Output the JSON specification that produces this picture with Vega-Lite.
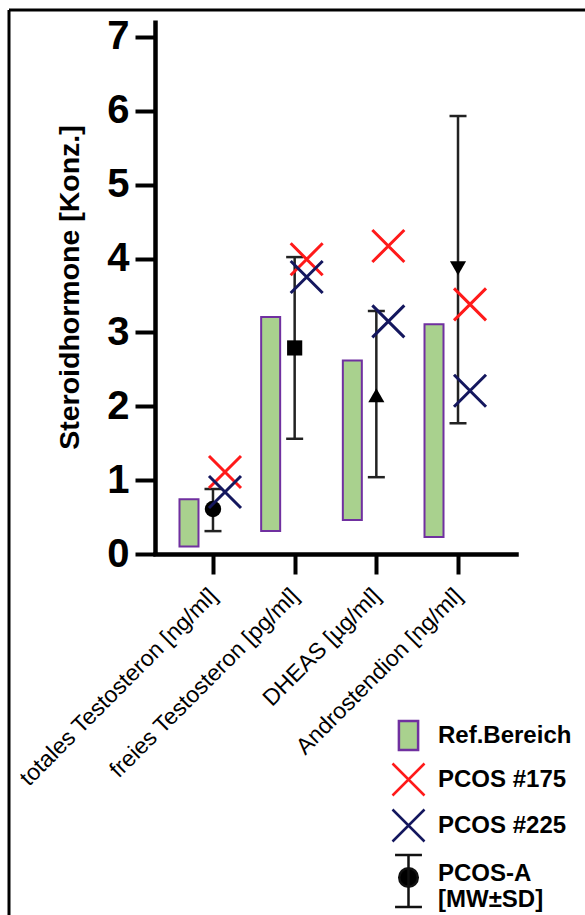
{
  "$schema": "https://vega.github.io/schema/vega-lite/v6.json",
  "width": 576,
  "height": 905,
  "autosize": {"type": "none"},
  "padding": {"left": 9, "top": 10, "right": 0, "bottom": 0},
  "background": "white",
  "config": {
    "view": {"stroke": "black", "strokeWidth": 3, "strokeDash": [576, 1481, 905, 0]},
    "font": "Liberation Sans",
    "legend": {
      "orient": "none",
      "legendX": 382,
      "legendY": 708,
      "title": null,
      "symbolSize": 1024,
      "symbolStrokeWidth": 2.5,
      "labelFont": "Liberation Sans",
      "labelFontSize": 24,
      "labelFontWeight": "bold",
      "labelColor": "black",
      "labelOffset": 12,
      "labelLimit": 300,
      "rowPadding": 3
    }
  },
  "datasets": {
    "kat": [
      {"cat": "totales Testosteron [ng/ml]", "ref_lo": 0.1, "ref_hi": 0.74, "mean": 0.61, "sd_lo": 0.31, "sd_hi": 0.88},
      {"cat": "freies Testosteron [pg/ml]", "ref_lo": 0.31, "ref_hi": 3.21, "mean": 2.79, "sd_lo": 1.56, "sd_hi": 4.02},
      {"cat": "DHEAS [µg/ml]", "ref_lo": 0.46, "ref_hi": 2.62, "mean": 2.15, "sd_lo": 1.04, "sd_hi": 3.29},
      {"cat": "Androstendion [ng/ml]", "ref_lo": 0.23, "ref_hi": 3.11, "mean": 3.87, "sd_lo": 1.77, "sd_hi": 5.93}
    ],
    "pcos": [
      {"cat": "totales Testosteron [ng/ml]", "series": "PCOS #175", "value": 1.11},
      {"cat": "totales Testosteron [ng/ml]", "series": "PCOS #225", "value": 0.84},
      {"cat": "freies Testosteron [pg/ml]", "series": "PCOS #175", "value": 3.99},
      {"cat": "freies Testosteron [pg/ml]", "series": "PCOS #225", "value": 3.75},
      {"cat": "DHEAS [µg/ml]", "series": "PCOS #175", "value": 4.17},
      {"cat": "DHEAS [µg/ml]", "series": "PCOS #225", "value": 3.15},
      {"cat": "Androstendion [ng/ml]", "series": "PCOS #175", "value": 3.38},
      {"cat": "Androstendion [ng/ml]", "series": "PCOS #225", "value": 2.21}
    ]
  },
  "encoding": {
    "x": {
      "field": "cat",
      "type": "nominal",
      "sort": null,
      "scale": {
        "type": "point",
        "domain": ["totales Testosteron [ng/ml]", "freies Testosteron [pg/ml]", "DHEAS [µg/ml]", "Androstendion [ng/ml]"],
        "range": [146, 507],
        "padding": 0.71
      },
      "axis": {
        "orient": "bottom",
        "offset": -361,
        "title": null,
        "labelAngle": -45,
        "labelAlign": "right",
        "labelBaseline": "middle",
        "labelFontSize": 23,
        "labelFont": "Liberation Sans",
        "labelColor": "black",
        "labelPadding": 18,
        "labelLimit": 400,
        "tickSize": 20,
        "tickWidth": 4,
        "tickColor": "black",
        "domainWidth": 4.5,
        "domainColor": "black",
        "domainCap": "square"
      }
    }
  },
  "layer": [
    {
      "data": {"name": "kat"},
      "mark": {"type": "bar", "width": 19, "xOffset": -24, "fill": "#a9d18e", "stroke": "#7030a0", "strokeWidth": 2},
      "encoding": {
        "y": {
          "field": "ref_lo",
          "type": "quantitative",
          "scale": {"domain": [0, 7.23], "range": [544, 10], "nice": false},
          "axis": {
            "orient": "left",
            "offset": -146,
            "values": [0, 1, 2, 3, 4, 5, 6, 7],
            "format": "d",
            "grid": false,
            "title": "Steroidhormone [Konz.]",
            "titleFont": "Liberation Sans",
            "titleFontSize": 28.5,
            "titleFontWeight": "bold",
            "titleColor": "black",
            "titlePadding": 22,
            "labelFont": "Liberation Sans",
            "labelFontSize": 40,
            "labelFontWeight": "bold",
            "labelColor": "black",
            "labelPadding": 6,
            "tickSize": 20,
            "tickWidth": 4,
            "tickColor": "black",
            "domainWidth": 4.5,
            "domainColor": "black"
          }
        },
        "y2": {"field": "ref_hi"}
      }
    },
    {
      "data": {"name": "kat"},
      "mark": {"type": "rule", "color": "#222222", "strokeWidth": 2.5},
      "encoding": {
        "y": {"field": "sd_lo", "type": "quantitative"},
        "y2": {"field": "sd_hi"}
      }
    },
    {
      "data": {"name": "kat"},
      "mark": {"type": "tick", "orient": "horizontal", "size": 17, "thickness": 2.5, "color": "#222222", "opacity": 1},
      "encoding": {"y": {"field": "sd_hi", "type": "quantitative"}}
    },
    {
      "data": {"name": "kat"},
      "mark": {"type": "tick", "orient": "horizontal", "size": 17, "thickness": 2.5, "color": "#222222", "opacity": 1},
      "encoding": {"y": {"field": "sd_lo", "type": "quantitative"}}
    },
    {
      "data": {"name": "kat"},
      "transform": [{"filter": "datum.cat == 'totales Testosteron [ng/ml]'"}],
      "mark": {"type": "point", "shape": "circle", "filled": true, "color": "black", "size": 270, "opacity": 1},
      "encoding": {"y": {"field": "mean", "type": "quantitative"}}
    },
    {
      "data": {"name": "kat"},
      "transform": [{"filter": "datum.cat == 'freies Testosteron [pg/ml]'"}],
      "mark": {"type": "point", "shape": "square", "filled": true, "color": "black", "size": 230, "opacity": 1},
      "encoding": {"y": {"field": "mean", "type": "quantitative"}}
    },
    {
      "data": {"name": "kat"},
      "transform": [{"filter": "datum.cat == 'DHEAS [µg/ml]'"}],
      "mark": {"type": "point", "shape": "triangle-up", "filled": true, "color": "black", "size": 260, "opacity": 1},
      "encoding": {"y": {"field": "mean", "type": "quantitative"}}
    },
    {
      "data": {"name": "kat"},
      "transform": [{"filter": "datum.cat == 'Androstendion [ng/ml]'"}],
      "mark": {"type": "point", "shape": "triangle-down", "filled": true, "color": "black", "size": 260, "opacity": 1},
      "encoding": {"y": {"field": "mean", "type": "quantitative"}}
    },
    {
      "data": {"name": "pcos"},
      "mark": {"type": "point", "xOffset": 12, "strokeWidth": 3, "size": 1024, "opacity": 1},
      "encoding": {
        "y": {"field": "value", "type": "quantitative"},
        "shape": {
          "field": "series",
          "type": "nominal",
          "scale": {
            "domain": ["Ref.Bereich", "PCOS #175", "PCOS #225", "PCOS-A [MW±SD]"],
            "range": [
              "M-0.6,-0.9H0.6V0.9H-0.6Z",
              "M-1,-1L1,1M-1,1L1,-1",
              "M-1,-1L1,1M-1,1L1,-1",
              "M-0.84,-1.15H0.84M0,-1.15V2.1M-0.84,2.1H0.84M-0.58,0.25A0.58,0.58 0 1,0 0.58,0.25A0.58,0.58 0 1,0 -0.58,0.25Z"
            ]
          },
          "legend": {
            "labelExpr": "datum.label == 'PCOS-A [MW±SD]' ? ['PCOS-A', '[MW±SD]'] : datum.label",
            "encode": {"labels": {"update": {"dy": {"signal": "datum.value == 'PCOS-A [MW±SD]' ? -8 : 0"}, "lineHeight": {"value": 27}}}}
          }
        },
        "stroke": {
          "field": "series",
          "type": "nominal",
          "scale": {
            "domain": ["Ref.Bereich", "PCOS #175", "PCOS #225", "PCOS-A [MW±SD]"],
            "range": ["#7030a0", "#ff1a1a", "#14175e", "#111111"]
          },
          "legend": {
            "labelExpr": "datum.label == 'PCOS-A [MW±SD]' ? ['PCOS-A', '[MW±SD]'] : datum.label",
            "encode": {"labels": {"update": {"dy": {"signal": "datum.value == 'PCOS-A [MW±SD]' ? -8 : 0"}, "lineHeight": {"value": 27}}}}
          }
        },
        "fill": {
          "field": "series",
          "type": "nominal",
          "scale": {
            "domain": ["Ref.Bereich", "PCOS #175", "PCOS #225", "PCOS-A [MW±SD]"],
            "range": ["#a9d18e", "transparent", "transparent", "#000000"]
          },
          "legend": {
            "labelExpr": "datum.label == 'PCOS-A [MW±SD]' ? ['PCOS-A', '[MW±SD]'] : datum.label",
            "encode": {"labels": {"update": {"dy": {"signal": "datum.value == 'PCOS-A [MW±SD]' ? -8 : 0"}, "lineHeight": {"value": 27}}}}
          }
        }
      }
    }
  ]
}
